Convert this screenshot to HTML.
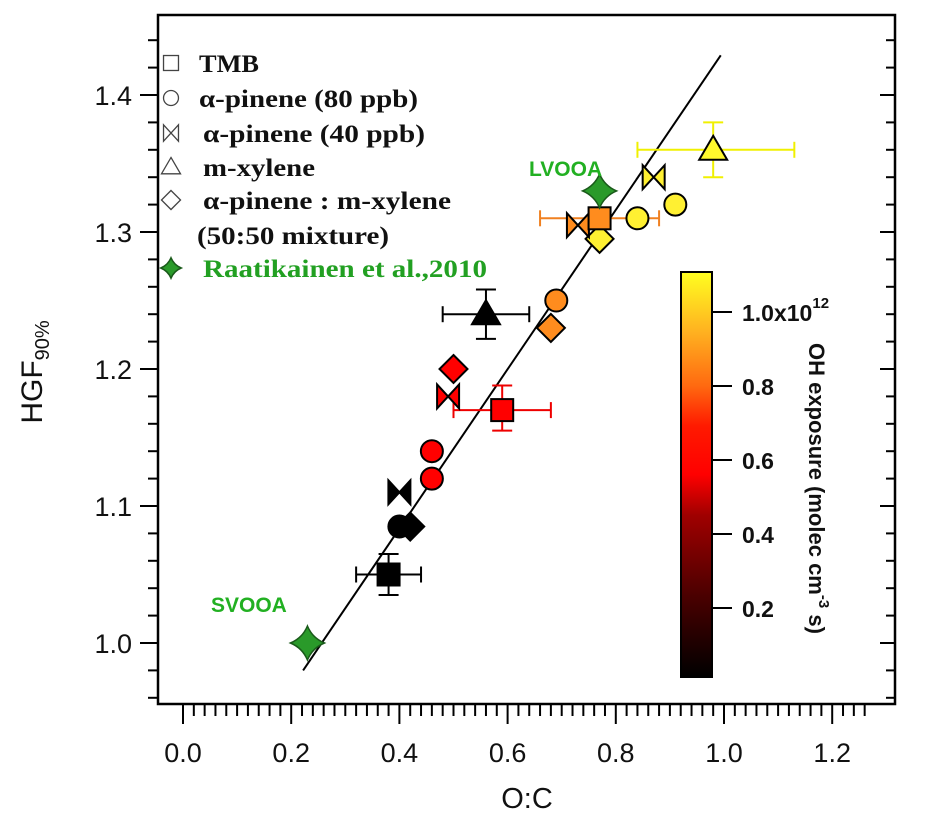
<!DOCTYPE html>
<html><head><meta charset="utf-8"><style>
html,body{margin:0;padding:0;background:#fff;}
svg{display:block;font-family:"Liberation Sans",sans-serif;}
</style></head><body>
<svg id="chart" width="925" height="818" viewBox="0 0 925 818">
<defs>
<linearGradient id="cb" x1="0" y1="1" x2="0" y2="0">
<stop offset="0" stop-color="#000"/>
<stop offset="0.2" stop-color="#4a0000"/>
<stop offset="0.4" stop-color="#a00000"/>
<stop offset="0.5" stop-color="#ff0000"/>
<stop offset="0.62" stop-color="#ff1a00"/>
<stop offset="0.72" stop-color="#ff6a10"/>
<stop offset="0.85" stop-color="#ffb020"/>
<stop offset="1" stop-color="#ffff20"/>
</linearGradient>
</defs>
<g id="axes"></g>
<g id="marks"></g>
</svg>
<script>
const xTicks=[0.0,0.2,0.4,0.6,0.8,1.0,1.2];
const yTicks=[1.0,1.1,1.2,1.3,1.4];
const cbTicks=[0.2,0.4,0.6,0.8,1.0];
// series: [O:C, HGF, OH exposure (1e12)]
const tmbX=[0.38,0.59,0.77];
const tmbY=[1.05,1.17,1.31];
const tmbC=[0.0,0.6,0.85];
const tmbXerr=[[0.32,0.44],[0.50,0.68],[0.66,0.88]];
const tmbYerr=[[1.035,1.065],[1.155,1.188],[1.31,1.31]];
const ap80X=[0.40,0.46,0.46,0.69,0.84,0.91];
const ap80Y=[1.085,1.14,1.12,1.25,1.31,1.32];
const ap80C=[0.0,0.6,0.6,0.85,1.05,1.05];
const ap40X=[0.40,0.49,0.73,0.87];
const ap40Y=[1.11,1.18,1.305,1.34];
const ap40C=[0.0,0.6,0.85,1.05];
const mxX=[0.56,0.98];
const mxY=[1.24,1.36];
const mxC=[0.0,1.1];
const mxXerr=[[0.48,0.64],[0.84,1.13]];
const mxYerr=[[1.222,1.258],[1.34,1.38]];
const mixX=[0.42,0.50,0.68,0.77];
const mixY=[1.085,1.20,1.23,1.295];
const mixC=[0.0,0.6,0.85,1.05];
const refX=[0.23,0.77];
const refY=[1.0,1.33];
const fitX=[0.222,0.994];
const fitY=[0.98,1.429];

const NS="http://www.w3.org/2000/svg";
const X=v=>183+v*541;
const Y=v=>643-(v-1)*1370;
const CB=v=>682-v*370;
const axes=document.getElementById('axes'), marks=document.getElementById('marks');
function mk(tag,attrs,parent,txt){const e=document.createElementNS(NS,tag);for(const k in attrs)e.setAttribute(k,attrs[k]);if(txt!==undefined)e.textContent=txt;parent.appendChild(e);return e;}
function col(v){
  const stops=[[0,[0,0,0]],[0.2,[74,0,0]],[0.45,[180,0,0]],[0.6,[255,0,0]],[0.85,[255,140,30]],[1.05,[255,240,50]],[1.15,[255,255,40]]];
  for(let i=1;i<stops.length;i++){if(v<=stops[i][0]){const a=stops[i-1],b=stops[i],t=(v-a[0])/(b[0]-a[0]);return 'rgb('+a[1].map((c,j)=>Math.round(c+(b[1][j]-c)*t)).join(',')+')';}}
  return 'rgb(255,255,40)';
}
let e=mk('rect',{x:158,y:15,width:737,height:689,fill:'none',stroke:'#000','stroke-width':2.5},axes);

for(let v=0;v<=1.28;v+=0.02){const r=Math.round(v*50)/50;const maj=Math.abs(r*5-Math.round(r*5))<1e-6;
 mk('line',{x1:X(r),x2:X(r),y1:704,y2:maj?724:716,stroke:'#000','stroke-width':2},axes);}
xTicks.forEach(v=>{const t=mk('text',{x:X(v),y:762,'text-anchor':'middle','font-size':27,fill:'#111'},axes,v.toFixed(1));
 });
for(let v=0.96;v<=1.445;v+=0.02){const r=Math.round(v*50)/50;const maj=Math.abs(r*10-Math.round(r*10))<1e-6;
 mk('line',{x1:maj?140:148,x2:158,y1:Y(r),y2:Y(r),stroke:'#000','stroke-width':2},axes);
 mk('line',{x1:895,x2:maj?880:886,y1:Y(r),y2:Y(r),stroke:'#000','stroke-width':2},axes);}
yTicks.forEach(v=>{const t=mk('text',{x:132,y:Y(v)+10,'text-anchor':'end','font-size':27,fill:'#111'},axes,v.toFixed(1));
 });
e=mk('text',{x:527,y:808,'text-anchor':'middle','font-size':29,fill:'#111'},axes,'O:C');

e=mk('text',{transform:'translate(42,372) rotate(-90)','text-anchor':'middle','font-size':30,fill:'#111'},axes);

mk('tspan',{},e,'HGF');mk('tspan',{'font-size':20,dy:7},e,'90%');
e=mk('rect',{x:681,y:272,width:31,height:405,fill:'url(#cb)',stroke:'#000','stroke-width':2},axes);

cbTicks.forEach(v=>{mk('line',{x1:712,x2:732,y1:CB(v),y2:CB(v),stroke:'#000','stroke-width':2},axes);
 const t=mk('text',{x:742,y:CB(v)+9,'font-size':23,'font-weight':'bold',fill:'#111'},axes,v===1?'1.0x10':v.toFixed(1));
 
 if(v===1){mk('tspan',{'font-size':15,dy:-13},t,'12');}});
e=mk('text',{transform:'translate(809,343) rotate(90)','font-size':22,'font-weight':'bold',fill:'#111'},axes,'OH exposure (molec cm');

mk('tspan',{'font-size':15,dy:-10},e,'-3');mk('tspan',{dy:10},e,' s)');
e=mk('line',{x1:X(fitX[0]),y1:Y(fitY[0]),x2:X(fitX[1]),y2:Y(fitY[1]),stroke:'#000','stroke-width':2},marks);

function errbar(x,y,xe,ye,c){
 const g=mk('g',{stroke:c,'stroke-width':2},marks);
 if(xe&&xe[0]!==xe[1]){mk('line',{x1:X(xe[0]),x2:X(xe[1]),y1:Y(y),y2:Y(y)},g);
  [xe[0],xe[1]].forEach(v=>mk('line',{x1:X(v),x2:X(v),y1:Y(y)-8,y2:Y(y)+8},g));}
 if(ye&&ye[0]!==ye[1]){mk('line',{x1:X(x),x2:X(x),y1:Y(ye[0]),y2:Y(ye[1])},g);
  [ye[0],ye[1]].forEach(v=>mk('line',{x1:X(x)-10,x2:X(x)+10,y1:Y(v),y2:Y(v)},g));}
}
function shape(kind,cx,cy,fill,parent,s){
 s=s||1;let el;const st={fill:fill,stroke:'#000','stroke-width':2};
 if(kind==='sq'){el=mk('rect',Object.assign({x:cx-11*s,y:cy-11*s,width:22*s,height:22*s},st),parent);}
 else if(kind==='ci'){el=mk('circle',Object.assign({cx:cx,cy:cy,r:11*s},st),parent);}
 else if(kind==='bt'){el=mk('path',Object.assign({d:`M${cx-11*s},${cy-12*s}L${cx+11*s},${cy+12*s}L${cx+11*s},${cy-12*s}L${cx-11*s},${cy+12*s}Z`},st),parent);}
 else if(kind==='tr'){el=mk('path',Object.assign({d:`M${cx},${cy-14*s}L${cx+14*s},${cy+10*s}L${cx-14*s},${cy+10*s}Z`},st),parent);}
 else if(kind==='di'){el=mk('path',Object.assign({d:`M${cx},${cy-14*s}L${cx+14*s},${cy}L${cx},${cy+14*s}L${cx-14*s},${cy}Z`},st),parent);}
 else if(kind==='st'){const r=17*s,q=5*s;el=mk('path',{d:`M${cx},${cy-r}Q${cx+q},${cy-q} ${cx+r},${cy}Q${cx+q},${cy+q} ${cx},${cy+r}Q${cx-q},${cy+q} ${cx-r},${cy}Q${cx-q},${cy-q} ${cx},${cy-r}Z`,fill:fill,stroke:'#1a5a1a','stroke-width':1.5},parent);}
 return el;
}
tmbX.forEach((x,i)=>errbar(x,tmbY[i],tmbXerr[i],tmbYerr[i],i===0?'#000':i===1?'#e00':'#f08020'));
mxX.forEach((x,i)=>errbar(x,mxY[i],mxXerr[i],mxYerr[i],i===0?'#000':'#f0f000'));
function series(xs,ys,cs,kind,name){xs.forEach((x,i)=>{const el=shape(kind,X(x),Y(ys[i]),cs?col(cs[i]):'#2a9a2a',marks);
 
 });}
series(ap80X,ap80Y,ap80C,'ci','alpha-pinene-80-point');
series(mixX,mixY,mixC,'di','mixture-point');
series(ap40X,ap40Y,ap40C,'bt','alpha-pinene-40-point');
series(tmbX,tmbY,tmbC,'sq','tmb-point');
series(mxX,mxY,mxC,'tr','m-xylene-point');
series(refX,refY,null,'st','raatikainen-point');
e=mk('text',{x:211,y:612,'font-size':21,'font-weight':'bold',fill:'#22b022'},marks,'SVOOA');

e=mk('text',{x:529,y:176,'font-size':21,'font-weight':'bold',fill:'#22b022'},marks,'LVOOA');

const leg=mk('g',{'font-family':'"Liberation Serif",serif','font-size':25,'font-weight':'bold'},marks);

const legRows=[['sq','TMB',63,199,60],['ci','\u03b1-pinene (80 ppb)',98,199,219],['bt','\u03b1-pinene (40 ppb)',133,203,222],['tr','m-xylene',167,203,112],['di','\u03b1-pinene : m-xylene',200,203,248]];
legRows.forEach(r=>{const s=shape(r[0],171,r[2],'#fff',leg,0.68);s.setAttribute('stroke-width',1.3);s.setAttribute('stroke','#444');
 const t=mk('text',{x:r[3],y:r[2]+9,fill:'#111',textLength:r[4],lengthAdjust:'spacingAndGlyphs'},leg,r[1]);
 });
e=mk('text',{x:197,y:244,fill:'#111',textLength:192,lengthAdjust:'spacingAndGlyphs'},leg,'(50:50 mixture)');

shape('st',171,268,'#2a9a2a',leg,0.6);
e=mk('text',{x:203,y:277,fill:'#22a022',textLength:284,lengthAdjust:'spacingAndGlyphs'},leg,'Raatikainen et al.,2010');

</script>
</body></html>
